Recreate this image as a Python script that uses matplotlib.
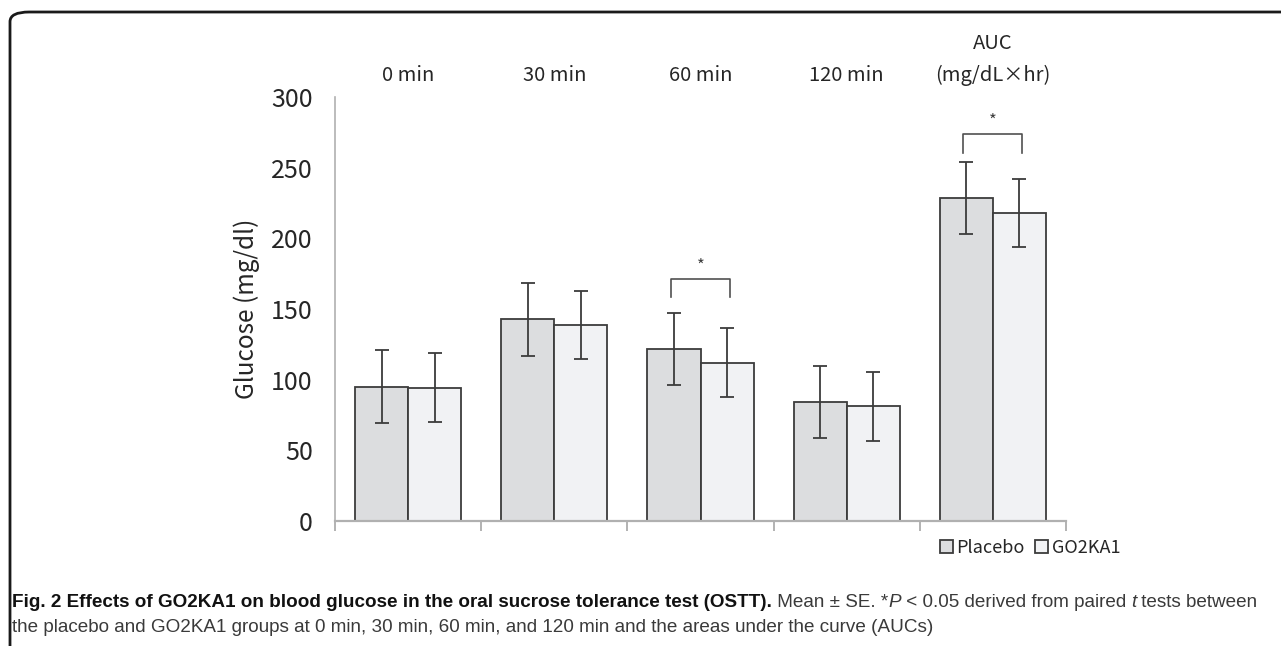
import matplotlib
matplotlib.use("Agg")
import matplotlib.pyplot as plt
from matplotlib.patches import FancyBboxPatch
import numpy as np

categories = ["0 min", "30 min", "60 min", "120 min", "AUC\n(mg/dL×hr)"]
placebo = [95.1, 142.7, 121.8, 84.4, 228.8]
placebo_se = [25.8, 25.7, 25.7, 25.4, 25.5]
go2ka1 = [94.4, 138.6, 112.1, 81.1, 217.9]
go2ka1_se = [24.2, 24.3, 24.3, 24.5, 24.2]
sig_idx = [2, 4]
sig_top = [171.4, 273.6]
series_names = ["Placebo", "GO2KA1"]
yticks = [0, 50, 100, 150, 200, 250, 300]

plt.rcParams['font.family'] = ['Noto Sans CJK KR', 'Noto Sans CJK JP', 'DejaVu Sans']

W, H = 1281, 646
fig = plt.figure(figsize=(W/100, H/100), dpi=100)

frame = FancyBboxPatch((10/W, -0.05), 1.1, (646-12)/H + 0.05,
                       boxstyle="round,pad=0,rounding_size=0.015",
                       transform=fig.transFigure, fill=False, lw=2, ec="#1a1a1a")
fig.patches.append(frame)

ax = fig.add_axes([335/W, (H-521)/H, (1066-335)/W, (521-97)/H])
x = np.arange(len(categories))
bw = 0.363
c1, c2 = "#DCDDDF", "#F1F2F4"
ec = "#3c3c3c"
ax.bar(x - bw/2, placebo, bw, color=c1, edgecolor=ec, lw=1.3, label=series_names[0], zorder=2)
ax.bar(x + bw/2, go2ka1, bw, color=c2, edgecolor=ec, lw=1.3, label=series_names[1], zorder=2)
ax.errorbar(x - bw/2, placebo, yerr=placebo_se, fmt='none', ecolor=ec, elinewidth=1.3, capsize=5, capthick=1.3, zorder=3)
ax.errorbar(x + bw/2, go2ka1, yerr=go2ka1_se, fmt='none', ecolor=ec, elinewidth=1.3, capsize=5, capthick=1.3, zorder=3)

ax.set_xlim(-0.5, len(categories) - 0.5)
ax.set_ylim(0, 300)
ax.set_yticks(yticks)
ax.tick_params(axis='y', length=0, labelsize=18, colors="#262626", pad=16)
ax.set_xticks(np.arange(len(categories) + 1) - 0.5)
ax.set_xticklabels([])
ax.tick_params(axis='x', length=7, width=1.2, color="#a6a6a6")
for s in ["top", "right"]:
    ax.spines[s].set_visible(False)
ax.spines["left"].set_color("#b0b0b0")
ax.spines["bottom"].set_color("#b0b0b0")
ax.spines["left"].set_linewidth(1.2)
ax.spines["bottom"].set_linewidth(1.6)
ax.set_ylabel("Glucose (mg/dl)", fontsize=17.5, color="#262626", labelpad=8)

for i, c in enumerate(categories):
    ax.text(i, 1.025, c, transform=ax.get_xaxis_transform(), ha='center', va='bottom',
            fontsize=14.5, color="#262626", linespacing=1.7)

for i, yb in zip(sig_idx, sig_top):
    xl, xr = i - bw/2 - 0.02, i + bw/2 + 0.02
    ax.plot([xl, xl, xr, xr], [yb - 13, yb, yb, yb - 13],
            color="#505050", lw=1.2, clip_on=False)
    ax.text(i, yb + 3, "*", ha='center', va='bottom', fontsize=12, color="#404040")

leg = fig.legend(loc='center', bbox_to_anchor=(1030/W, (H-548)/H), ncol=2, frameon=False,
                 fontsize=13, handlelength=0.7, handleheight=0.7, handletextpad=0.2,
                 columnspacing=0.6, labelcolor="#262626")

fig.canvas.draw()
r = fig.canvas.get_renderer()

def draw_runs(runs, x0, y0):
    xpos = x0
    for txt, kw in runs:
        t = fig.text(xpos/W, (H-y0)/H, txt, va='baseline', ha='left', fontsize=13.6,
                     family=['Liberation Sans Narrow', 'Liberation Sans', 'DejaVu Sans'], **kw)
        bb = t.get_window_extent(renderer=r)
        xpos += bb.width

draw_runs([
    ("Fig. 2 Effects of GO2KA1 on blood glucose in the oral sucrose tolerance test (OSTT).", dict(weight='bold', color='#111111')),
    (" Mean ± SE. *", dict(color='#3a3a3a')),
    ("P", dict(style='italic', color='#3a3a3a')),
    (" < 0.05 derived from paired ", dict(color='#3a3a3a')),
    ("t", dict(style='italic', color='#3a3a3a')),
    (" tests between", dict(color='#3a3a3a')),
], 12, 607)
draw_runs([
    ("the placebo and GO2KA1 groups at 0 min, 30 min, 60 min, and 120 min and the areas under the curve (AUCs)", dict(color='#3a3a3a')),
], 12, 632)

fig.savefig("out.png", dpi=100)
